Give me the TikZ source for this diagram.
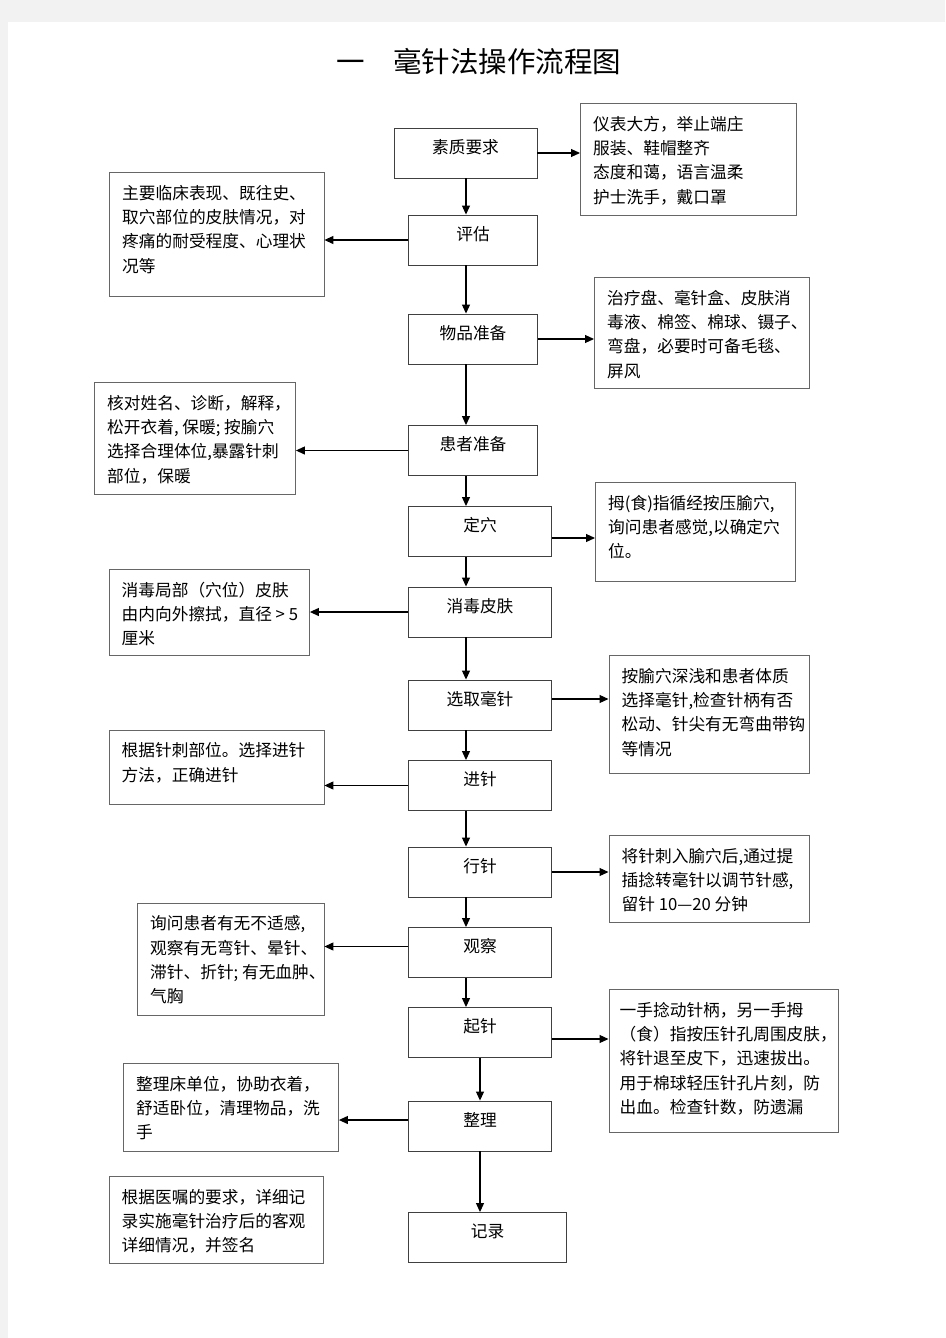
\documentclass[tikz,border=0pt]{standalone}
\usepackage{fontspec}
\setmainfont{Noto Sans CJK SC}
\usetikzlibrary{arrows.meta}

\tikzset{
  stepbox/.style={draw=black!75, line width=0.9pt, minimum height=50pt, inner sep=0pt,
    font=\fontsize{16.7}{24.3}\selectfont, text height=10pt, text depth=10pt},
  notebox/.style={draw=black!60, line width=0.9pt, anchor=north west, inner sep=0pt},
  notetext/.style={anchor=north west, inner sep=0pt, align=left,
    font=\fontsize{16.7}{24.3}\selectfont},
  flow/.style={-{Triangle[length=9pt,width=8pt]}, line width=1.1pt},
}

\begin{document}
\begin{tikzpicture}[x=1pt,y=-1pt]

% Page and grey margin
\fill[black!5] (0,0) rectangle (945,1338);
\fill[white] (8,22) rectangle (945,1338);
\useasboundingbox (0,0) rectangle (945,1338);

% Title
\node[font=\fontsize{28.5}{30}\selectfont, inner sep=0pt] (title) at (478.5,62) {一　毫针法操作流程图};

% Steps
\node[stepbox, minimum width=143pt]   (quality)   at (465.5,153)   {素质要求};
\node[stepbox, minimum width=128.5pt] (assess)    at (473,240)     {评估};
\node[stepbox, minimum width=128.5pt] (goods)     at (473,339)     {物品准备};
\node[stepbox, minimum width=128.5pt] (patient)   at (473,450.5)   {患者准备};
\node[stepbox, minimum width=143pt]   (locate)    at (480,531.5)   {定穴};
\node[stepbox, minimum width=143pt]   (disinfect) at (480,612)     {消毒皮肤};
\node[stepbox, minimum width=143pt]   (choose)    at (480,705)     {选取毫针};
\node[stepbox, minimum width=143pt]   (insert)    at (480,785.5)   {进针};
\node[stepbox, minimum width=143pt]   (manip)     at (480,872)     {行针};
\node[stepbox, minimum width=143pt]   (observe)   at (480,952.5)   {观察};
\node[stepbox, minimum width=143pt]   (withdraw)  at (480,1032.5)  {起针};
\node[stepbox, minimum width=143pt]   (tidy)      at (480,1126)    {整理};
\node[stepbox, minimum width=158pt]   (record)    at (487.5,1237.5) {记录};

% Note boxes
\node[notebox, minimum width=216pt,   minimum height=112pt]   (n1)  at (580,103)     {};
\node[notebox, minimum width=214.5pt, minimum height=124pt]   (n2)  at (109,172)     {};
\node[notebox, minimum width=215pt,   minimum height=111pt]   (n3)  at (594,277)     {};
\node[notebox, minimum width=201pt,   minimum height=112pt]   (n4)  at (94,382)      {};
\node[notebox, minimum width=200pt,   minimum height=99pt]    (n5)  at (595,482)     {};
\node[notebox, minimum width=200.5pt, minimum height=86.5pt]  (n6)  at (108.5,568.5) {};
\node[notebox, minimum width=200.5pt, minimum height=118pt]   (n7)  at (608.5,655)   {};
\node[notebox, minimum width=215pt,   minimum height=74.5pt]  (n8)  at (108.5,729.5) {};
\node[notebox, minimum width=200.5pt, minimum height=86.5pt]  (n9)  at (608.5,835)   {};
\node[notebox, minimum width=186.5pt, minimum height=112.5pt] (n10) at (137,902.5)   {};
\node[notebox, minimum width=229.5pt, minimum height=143pt]   (n11) at (608.5,989)   {};
\node[notebox, minimum width=215pt,   minimum height=88pt]    (n12) at (123,1063)    {};
\node[notebox, minimum width=214.5pt, minimum height=86.5pt]  (n13) at (108.5,1176)  {};

% Note texts
\node[notetext] (t1) at ([xshift=13pt,yshift=-13pt]n1.north west)
  {仪表大方，举止端庄\\服装、鞋帽整齐\\态度和蔼，语言温柔\\护士洗手，戴口罩};
\node[notetext] (t2) at ([xshift=13pt,yshift=-13pt]n2.north west)
  {主要临床表现、既往史、\\取穴部位的皮肤情况，对\\疼痛的耐受程度、心理状\\况等};
\node[notetext] (t3) at ([xshift=13pt,yshift=-13pt]n3.north west)
  {治疗盘、毫针盒、皮肤消\\毒液、棉签、棉球、镊子、\\弯盘，必要时可备毛毯、\\屏风};
\node[notetext] (t4) at ([xshift=13pt,yshift=-13pt]n4.north west)
  {核对姓名、诊断，解释，\\松开衣着, 保暖; 按腧穴\\选择合理体位,暴露针刺\\部位，保暖};
\node[notetext] (t5) at ([xshift=13pt,yshift=-13pt]n5.north west)
  {拇(食)指循经按压腧穴,\\询问患者感觉,以确定穴\\位。};
\node[notetext] (t6) at ([xshift=13pt,yshift=-13pt]n6.north west)
  {消毒局部（穴位）皮肤\\由内向外擦拭，直径 > 5\\厘米};
\node[notetext] (t7) at ([xshift=13pt,yshift=-13pt]n7.north west)
  {按腧穴深浅和患者体质\\选择毫针,检查针柄有否\\松动、针尖有无弯曲带钩\\等情况};
\node[notetext] (t8) at ([xshift=13pt,yshift=-13pt]n8.north west)
  {根据针刺部位。选择进针\\方法，正确进针};
\node[notetext] (t9) at ([xshift=13pt,yshift=-13pt]n9.north west)
  {将针刺入腧穴后,通过提\\插捻转毫针以调节针感,\\留针 10—20 分钟};
\node[notetext] (t10) at ([xshift=13pt,yshift=-13pt]n10.north west)
  {询问患者有无不适感,\\观察有无弯针、晕针、\\滞针、折针; 有无血肿、\\气胸};
\node[notetext] (t11) at ([xshift=11pt,yshift=-13pt]n11.north west)
  {一手捻动针柄，另一手拇\\（食）指按压针孔周围皮肤，\\将针退至皮下，迅速拔出。\\用于棉球轻压针孔片刻，防\\出血。检查针数，防遗漏};
\node[notetext] (t12) at ([xshift=13pt,yshift=-13pt]n12.north west)
  {整理床单位，协助衣着，\\舒适卧位，清理物品，洗\\手};
\node[notetext] (t13) at ([xshift=13pt,yshift=-13pt]n13.north west)
  {根据医嘱的要求，详细记\\录实施毫针治疗后的客观\\详细情况，并签名};

% Main line
\coordinate (spine) at (466,0);
\draw[flow] (spine |- quality.south)  -- (spine |- assess.north);
\draw[flow] (spine |- assess.south)   -- (spine |- goods.north);
\draw[flow] (spine |- goods.south)    -- (spine |- patient.north);
\draw[flow] (spine |- patient.south)  -- (spine |- locate.north);
\draw[flow] (spine |- locate.south)   -- (spine |- disinfect.north);
\draw[flow] (spine |- disinfect.south) -- (spine |- choose.north);
\draw[flow] (spine |- choose.south)   -- (spine |- insert.north);
\draw[flow] (spine |- insert.south)   -- (spine |- manip.north);
\draw[flow] (spine |- manip.south)    -- (spine |- observe.north);
\draw[flow] (spine |- observe.south)  -- (spine |- withdraw.north);
\draw[flow] (withdraw.south) -- (tidy.north);
\draw[flow] (tidy.south) -- (tidy.south |- record.north);

% Side arrows
\coordinate (e5)  at ([yshift=-6.5pt]locate.east);
\coordinate (e7)  at ([yshift=6pt]choose.east);
\coordinate (e10) at ([yshift=6pt]observe.west);
\coordinate (e11) at ([yshift=-6.5pt]withdraw.east);
\coordinate (e12) at ([yshift=6pt]tidy.west);
\draw[flow] (quality.east)   -- (quality.east -| n1.west);
\draw[flow] (assess.west)    -- (assess.west -| n2.east);
\draw[flow] (goods.east)     -- (goods.east -| n3.west);
\draw[flow] (patient.west)   -- (patient.west -| n4.east);
\draw[flow] (e5)             -- (e5 -| n5.west);
\draw[flow] (disinfect.west) -- (disinfect.west -| n6.east);
\draw[flow] (e7)             -- (e7 -| n7.west);
\draw[flow] (insert.west)    -- (insert.west -| n8.east);
\draw[flow] (manip.east)     -- (manip.east -| n9.west);
\draw[flow] (e10)            -- (e10 -| n10.east);
\draw[flow] (e11)            -- (e11 -| n11.west);
\draw[flow] (e12)            -- (e12 -| n12.east);

\end{tikzpicture}
\end{document}
